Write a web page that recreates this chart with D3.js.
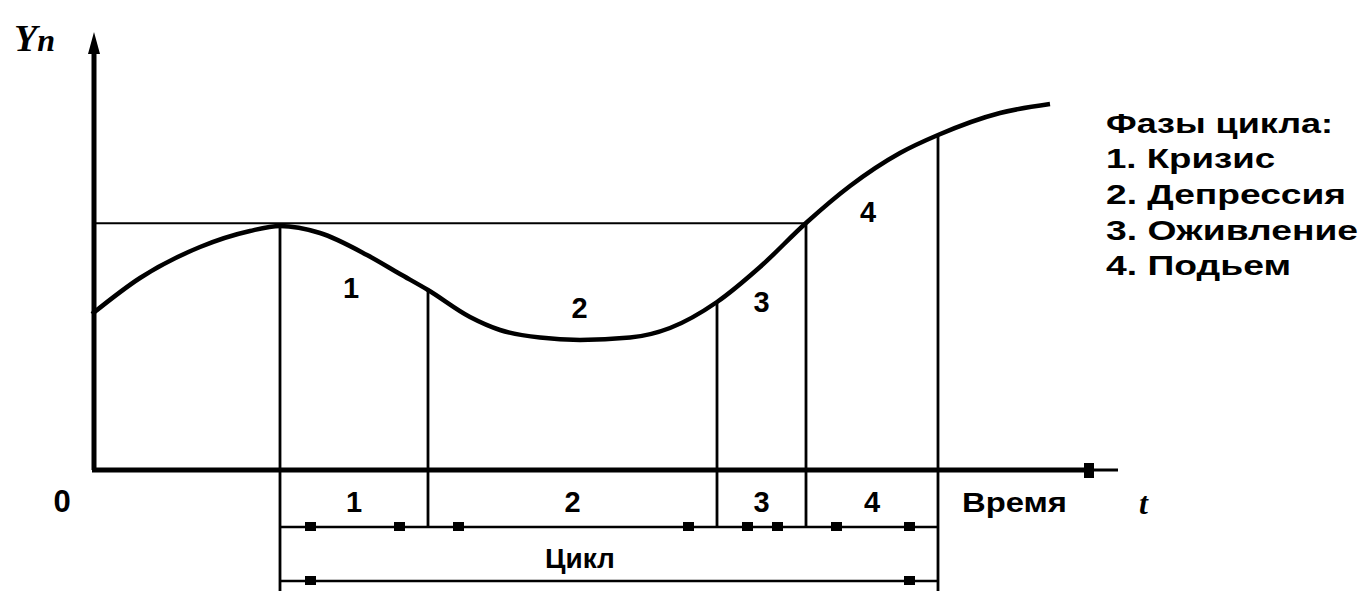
<!DOCTYPE html>
<html><head><meta charset="utf-8">
<script src="https://cdn.jsdelivr.net/npm/d3@7"></script>
<style>html,body{margin:0;padding:0;background:#fff;overflow:hidden}</style>
</head><body>
<svg id="c" width="1364" height="591"></svg>
<script>
// ---- data ----
const curveT = [0, 4.8, 10.8, 15.8, 18.8, 22.8, 27.5, 30.8, 33.6, 37.8, 40.8, 44.8, 48.8, 53.8, 57.8, 62.5, 66.8, 71.4, 75.8, 80.8, 84.6, 90.8, 95.8];
const curveY = [38.5, 47.5, 55.25, 59.25, 60.5, 58.75, 53.25, 48.5, 44.5, 37.75, 34.5, 32.6, 32, 32.6, 35, 41.5, 50.25, 61.25, 70.5, 78.75, 83.25, 88.75, 91];
const boundaryT = [18.8, 33.6, 62.5, 71.4, 84.6];
const boundaryY = [60.5, 44.5, 41.5, 61.25, 83.25];
const peakLevel = 61.2;
const phaseLabels = ["1", "2", "3", "4"];
const curveLabelY = [42.5, 37.5, 39, 61.5];
const legendTitle = "Фазы цикла:";
const legendItems = ["1. Кризис", "2. Депрессия", "3. Оживление", "4. Подьем"];
const legendWidths = [227, 169, 240, 252, 185];
const cycleLabel = "Цикл";
const xAxisLabel = "Время";
const xAxisSymbol = "t";
const yAxisLabel = ["Y", "n"];
const originLabel = "0";

// ---- scales ----
const x = d3.scaleLinear().domain([0, 100]).range([92, 1092]);
const y = d3.scaleLinear().domain([0, 100]).range([468, 68]);
const svg = d3.select("#c");
const sans = "'Liberation Sans', Arial, sans-serif";
const serif = "'Liberation Serif', 'Times New Roman', serif";

// horizontal reference at peak level
svg.append("line").attr("x1", x(0)).attr("x2", x(boundaryT[3]))
  .attr("y1", y(peakLevel)).attr("y2", y(peakLevel))
  .attr("stroke", "#000").attr("stroke-width", 2);

// phase boundary verticals
const dim1Y = 527, dim2Y = 581, bottomY = 600;
boundaryT.forEach((t, i) => {
  const full = (i === 0 || i === boundaryT.length - 1);
  svg.append("line").attr("x1", x(t)).attr("x2", x(t))
    .attr("y1", y(boundaryY[i])).attr("y2", full ? bottomY : dim1Y)
    .attr("stroke", "#000").attr("stroke-width", 2.8);
});

// axes
const axisY0 = y(0);
svg.append("line").attr("x1", x(0) + 2).attr("x2", x(0) + 2).attr("y1", axisY0 + 2).attr("y2", 48)
  .attr("stroke", "#000").attr("stroke-width", 5);
svg.append("path").attr("d", `M${x(0)+2},32 L${x(0)-4},54 L${x(0)+8},54 Z`).attr("fill", "#000");
svg.append("line").attr("x1", x(0)).attr("x2", 1090).attr("y1", axisY0 + 2).attr("y2", axisY0 + 2)
  .attr("stroke", "#000").attr("stroke-width", 5);
svg.append("line").attr("x1", 1090).attr("x2", 1118).attr("y1", axisY0 + 2).attr("y2", axisY0 + 2)
  .attr("stroke", "#000").attr("stroke-width", 3);
svg.append("rect").attr("x", 1084).attr("y", axisY0 - 5).attr("width", 10).attr("height", 15).attr("fill", "#000");

// curve
const pts = curveT.map((t, i) => [t, curveY[i]]);
svg.append("path").datum(pts)
  .attr("d", d3.line().x(d => x(d[0])).y(d => y(d[1])).curve(d3.curveMonotoneX))
  .attr("fill", "none").attr("stroke", "#000").attr("stroke-width", 4.5);

// curve phase labels
const segCenters = boundaryT.slice(0, -1).map((t, i) => (t + boundaryT[i + 1]) / 2);
phaseLabels.forEach((lab, i) => {
  const cx = [x(segCenters[0]) - 3, x(segCenters[1]) + 7, x(segCenters[2]), x(segCenters[3]) - 4][i];
  svg.append("text").attr("x", cx).attr("y", y(curveLabelY[i]))
    .attr("text-anchor", "middle").attr("font-family", sans).attr("font-weight", "bold")
    .attr("font-size", 29).text(lab);
  svg.append("text").attr("x", x(segCenters[i])).attr("y", 512)
    .attr("text-anchor", "middle").attr("font-family", sans).attr("font-weight", "bold")
    .attr("font-size", 29).text(lab);
});

// dimension lines
function dimLine(t0, t1, yy) {
  const a = x(t0), b = x(t1);
  svg.append("line").attr("x1", a).attr("x2", b).attr("y1", yy).attr("y2", yy)
    .attr("stroke", "#000").attr("stroke-width", 2.4);
  svg.append("rect").attr("x", a + 25).attr("y", yy - 5).attr("width", 11).attr("height", 9).attr("fill", "#000");
  svg.append("rect").attr("x", b - 34).attr("y", yy - 5).attr("width", 11).attr("height", 9).attr("fill", "#000");
}
for (let i = 0; i < boundaryT.length - 1; i++) dimLine(boundaryT[i], boundaryT[i + 1], dim1Y);
dimLine(boundaryT[0], boundaryT[boundaryT.length - 1], dim2Y);
svg.append("text").attr("x", (x(boundaryT[0]) + x(boundaryT[4])) / 2 - 29).attr("y", 568)
  .attr("text-anchor", "middle").attr("font-family", sans).attr("font-weight", "bold")
  .attr("font-size", 28).text(cycleLabel);

// axis labels
svg.append("text").attr("x", 62).attr("y", 512).attr("text-anchor", "middle")
  .attr("font-family", sans).attr("font-weight", "bold").attr("font-size", 31).text(originLabel);
svg.append("text").attr("x", 962).attr("y", 512).attr("font-family", sans).attr("font-weight", "bold")
  .attr("font-size", 28).attr("textLength", 105).attr("lengthAdjust", "spacingAndGlyphs").text(xAxisLabel);
svg.append("text").attr("x", 1139).attr("y", 514).attr("font-family", serif).attr("font-weight", "bold")
  .attr("font-style", "italic").attr("font-size", 32).text(xAxisSymbol);
const yl = svg.append("text").attr("x", 14).attr("y", 51).attr("font-family", serif)
  .attr("font-weight", "bold").attr("font-style", "italic");
yl.append("tspan").attr("font-size", 38).text(yAxisLabel[0]);
yl.append("tspan").attr("font-size", 32).text(yAxisLabel[1]);

// legend
const legendLines = [legendTitle].concat(legendItems);
const legendBase = [133, 168, 204, 240, 275];
legendLines.forEach((s, i) => {
  svg.append("text").attr("x", 1106).attr("y", legendBase[i]).attr("font-family", sans)
    .attr("font-weight", "bold").attr("font-size", 27)
    .attr("textLength", legendWidths[i]).attr("lengthAdjust", "spacingAndGlyphs").text(s);
});
</script>
</body></html>
